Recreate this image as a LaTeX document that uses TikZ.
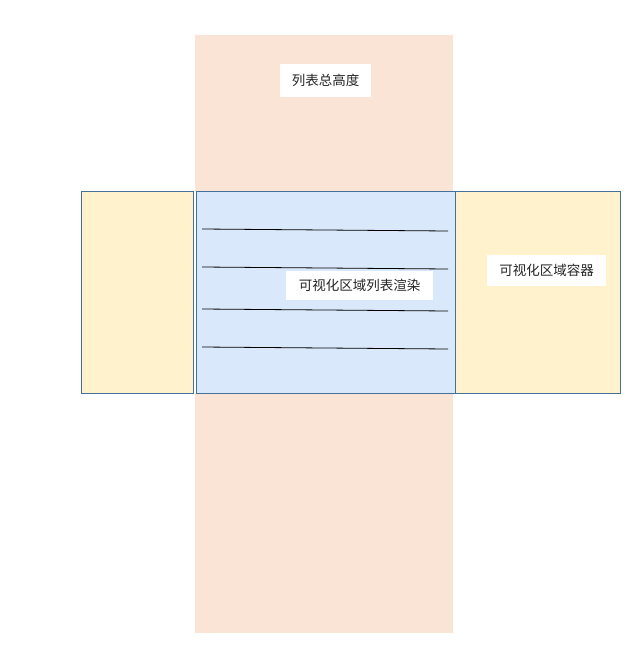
\documentclass[tikz,border=0pt]{standalone}
\usepackage{fontspec}
\newfontfamily\cjk{Noto Sans CJK SC}
\definecolor{peach}{RGB}{250,228,214}
\definecolor{ylw}{RGB}{255,242,204}
\definecolor{blu}{RGB}{218,232,252}
\definecolor{bord}{RGB}{68,113,156}
\tikzset{
  lbl/.style={fill=white, inner sep=0pt, font=\cjk\fontsize{13.5}{15}\selectfont, text=black!85},
  row/.style={draw=black, line width=0.8pt},
  panel/.style={draw=bord, line width=0.8pt}
}
\begin{document}
\begin{tikzpicture}[x=1pt,y=-1pt]
\useasboundingbox (0,0) rectangle (634,648);
\fill[peach] (195,35) rectangle (453,633);
\filldraw[panel, fill=ylw] (81,191) rectangle (193.5,393);
\filldraw[panel, fill=ylw] (455,191) rectangle (620,393);
\fill[white] (194,191) rectangle (196,393);
\filldraw[panel, fill=blu] (196.5,191) rectangle (455,393);
\coordinate (a1) at (202,229); \coordinate (b1) at (448,231);
\coordinate (a2) at (202,267); \coordinate (b2) at (448,269);
\coordinate (a3) at (202,309); \coordinate (b3) at (448,311);
\coordinate (a4) at (202,347); \coordinate (b4) at (448,349);
\draw[row] (a1) -- (b1);
\draw[row] (a2) -- (b2);
\draw[row] (a3) -- (b3);
\draw[row] (a4) -- (b4);
\node[lbl, minimum width=91, minimum height=33] (total) at (325.5,80.5) {列表总高度};
\node[lbl, minimum width=147, minimum height=29] (render) at (359.5,285.5) {可视化区域列表渲染};
\node[lbl, minimum width=119, minimum height=31] (cont) at (546.5,270.5) {可视化区域容器};
\end{tikzpicture}
\end{document}
